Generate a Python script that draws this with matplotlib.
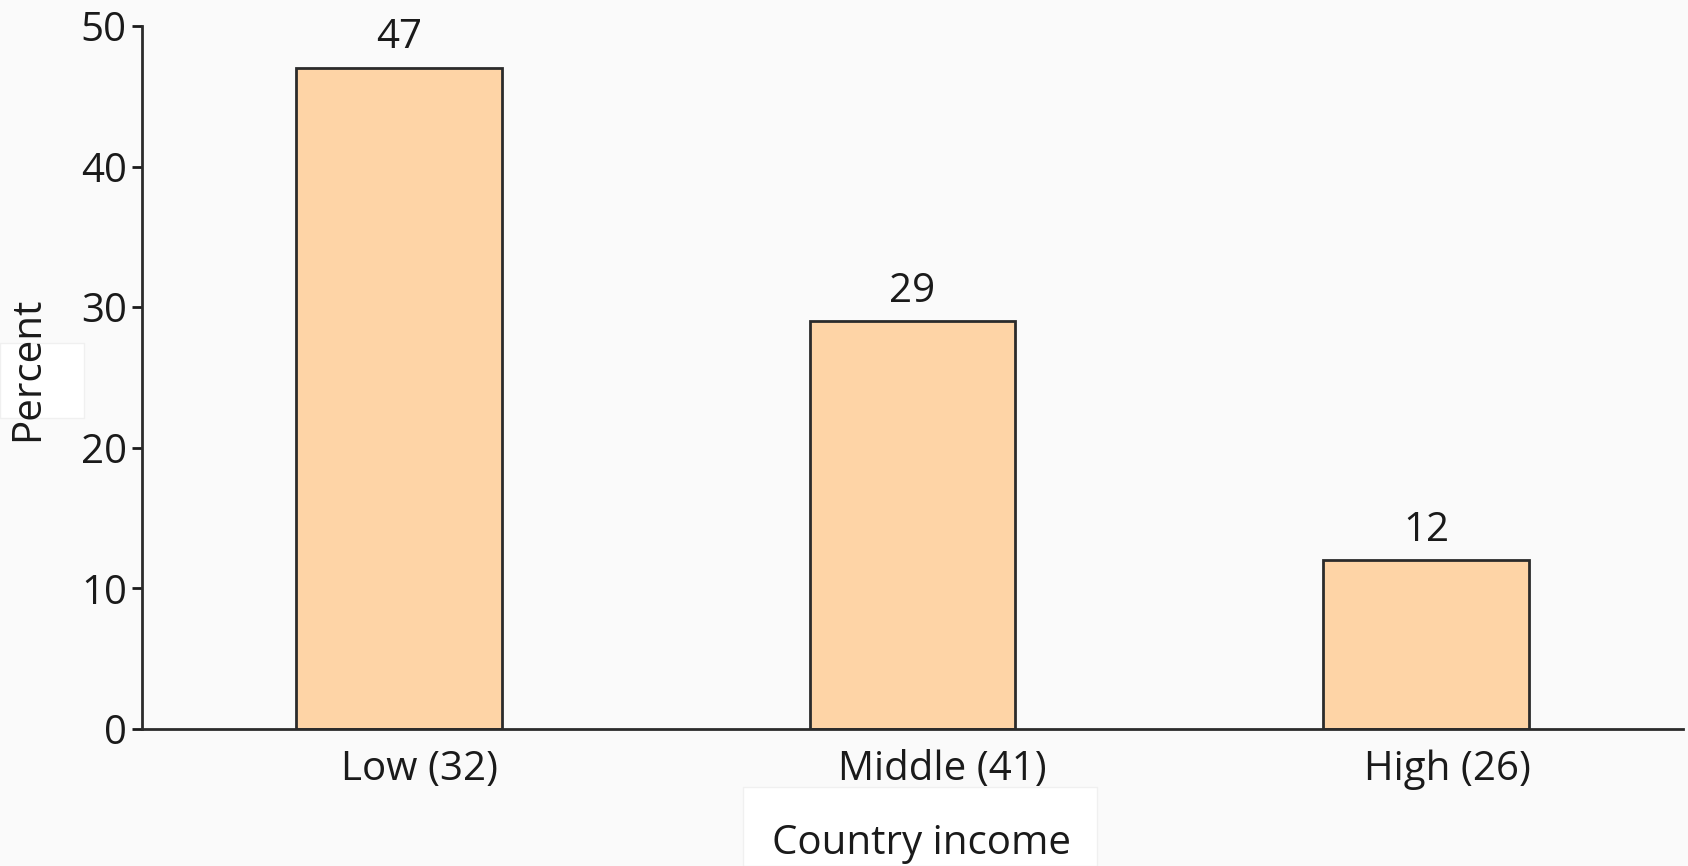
import matplotlib
matplotlib.use("Agg")
import matplotlib.pyplot as plt
import matplotlib.transforms as mtransforms
from matplotlib.patches import Rectangle

# data
categories = ["Low (32)", "Middle (41)", "High (26)"]
percents = [47, 29, 12]
y_ticks = [0, 10, 20, 30, 40, 50]

plt.rcParams["font.family"] = ["Open Sans", "DejaVu Sans"]

W, H = 1688, 866
FS = 29
fig = plt.figure(figsize=(W / 100, H / 100), dpi=100, facecolor="#fafafa")
ax = fig.add_axes([142 / W, 1 - 729 / H, (1683 - 142) / W, (729 - 26) / H])
ax.set_facecolor("#fafafa")

x = range(len(categories))
ax.bar(x, percents, width=0.4, color="#fed4a6", edgecolor="#2b2b2b",
       linewidth=2, zorder=2)
for xi, v in zip(x, percents):
    ax.annotate(str(v), (xi, v), xytext=(0, 7), textcoords="offset points",
                ha="center", va="bottom", fontsize=FS, color="#1a1a1a")

ax.set_xlim(-0.5, 2.5)
ax.set_ylim(0, 50)
ax.set_yticks(y_ticks)
ax.set_xticks(list(x))
ax.set_xticklabels(categories)
ax.tick_params(axis="y", length=7, width=2, pad=4, labelsize=FS,
               colors="#1a1a1a")
ax.tick_params(axis="x", length=0, pad=15, labelsize=FS, colors="#1a1a1a")
# category labels sit a little right of the bar centres in the original
for lab, dx in zip(ax.get_xticklabels(), [21, 30, 21]):
    lab.set_transform(lab.get_transform() +
                      mtransforms.ScaledTranslation(dx / 100, 0, fig.dpi_scale_trans))
for side in ("top", "right"):
    ax.spines[side].set_visible(False)
for side in ("left", "bottom"):
    ax.spines[side].set_linewidth(2)
    ax.spines[side].set_color("#2b2b2b")

# white boxes behind the axis titles
fig.patches.append(Rectangle((0, 1 - 418 / H), 84 / W, 75 / H,
                             transform=fig.transFigure, facecolor="white",
                             edgecolor="#f0f0f0", linewidth=1, zorder=0))
fig.patches.append(Rectangle((743 / W, 0), (1097 - 743) / W, (866 - 787) / H,
                             transform=fig.transFigure, facecolor="white",
                             edgecolor="#f0f0f0", linewidth=1, zorder=0))
fig.text(28 / W, 1 - 369 / H, "Percent", rotation=90, ha="center",
         va="center", fontsize=FS, color="#1a1a1a")
fig.text(922 / W, 1 - 844 / H, "Country income", ha="center", va="center",
         fontsize=FS, color="#1a1a1a")

fig.savefig("out.png", dpi=100, facecolor=fig.get_facecolor())
